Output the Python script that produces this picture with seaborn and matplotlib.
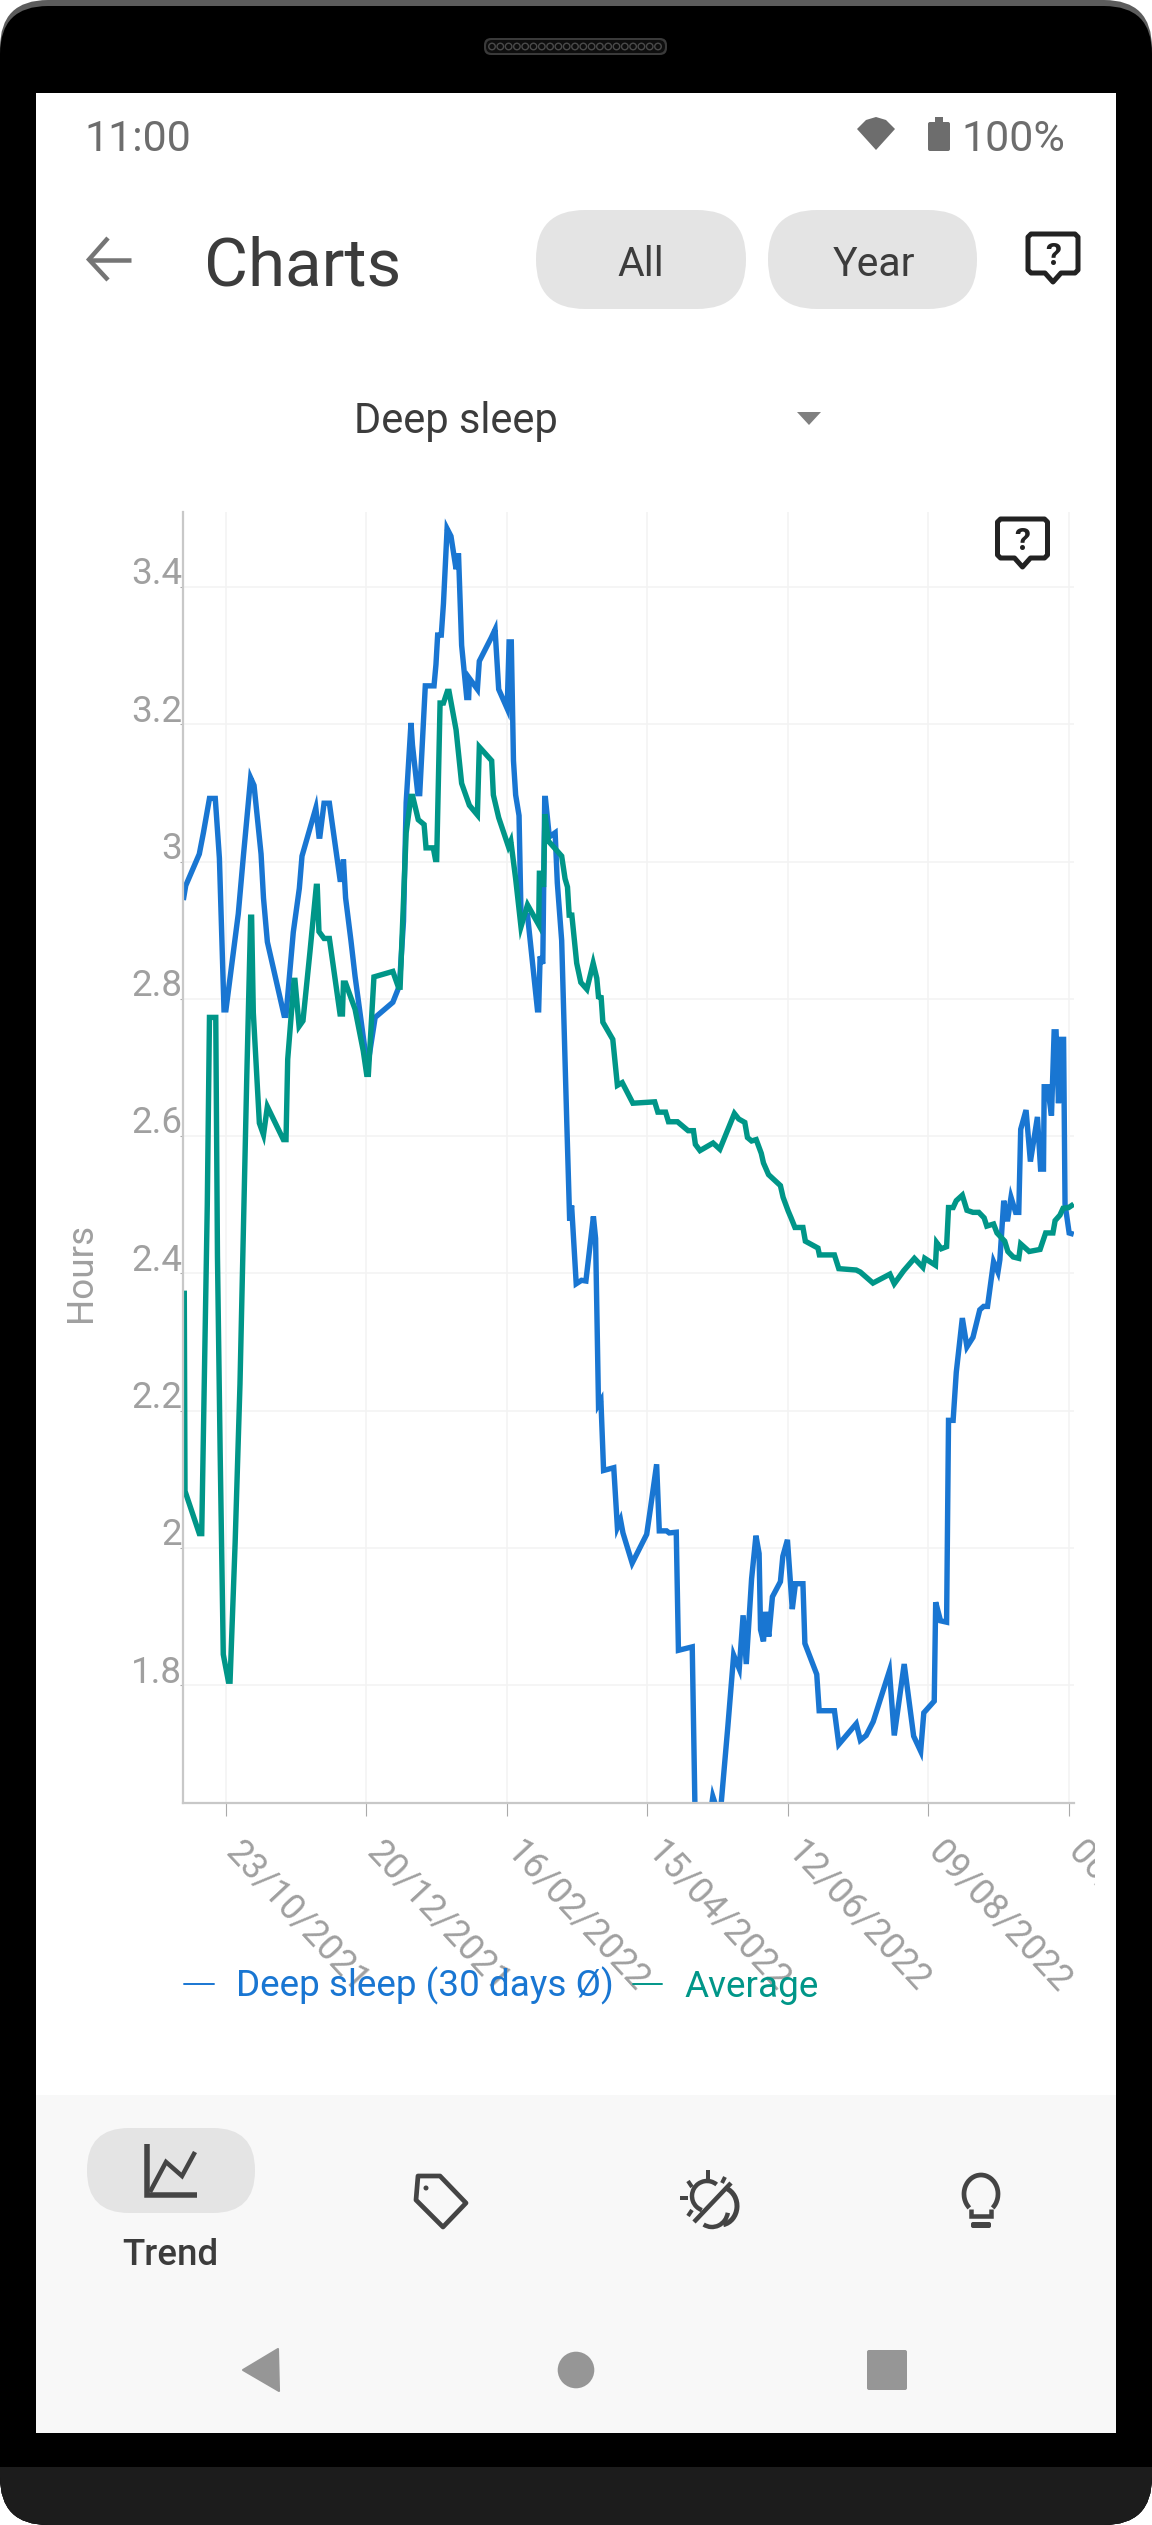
import numpy as np
import pandas as pd
import matplotlib
matplotlib.use("Agg")
import matplotlib.pyplot as plt
import seaborn as sns
from matplotlib.lines import Line2D
from matplotlib.patches import Arc, Circle, FancyBboxPatch, Polygon, Rectangle
from matplotlib.transforms import Bbox, ScaledTranslation

# Values; days are counted from 23/10/2021
blue_days = [-17.5, -16.5, -10.9, -9.2, -6.7, -4.3, -2.6, -2.1, -0.7, 0.1, 5.2, 7.3, 10.3, 11.7, 14.6, 15.6, 17.2, 24.1,
             24.9, 27.9, 30.4, 31.5, 37.2, 38.5, 38.9, 40.6, 42.8, 47.2, 48.2, 48.6, 49.5, 51.7, 53.4, 58.5, 61.7, 69.0,
             71.7, 73.4, 74.5, 76.5, 77.1, 79.3, 80.1, 82.4, 86.0, 86.8, 87.5, 89.0, 89.9, 91.4, 93.0, 95.1, 96.1, 97.4,
             99.5, 100.3, 100.6, 103.9, 104.7, 109.6, 111.2, 112.7, 116.2, 117.0, 117.9, 118.8, 119.7, 121.1, 121.9,
             124.6, 127.0, 128.7, 129.2, 129.8, 130.9, 131.7, 132.0, 133.6, 136.0, 136.9, 138.7, 140.8, 142.0, 142.8,
             144.7, 146.9, 148.7, 151.8, 152.7, 153.9, 154.9, 156.0, 160.2, 161.7, 163.0, 164.0, 167.8, 173.8, 175.4,
             177.9, 179.0, 182.0, 183.1, 186.0, 186.9, 192.6, 193.7, 194.6, 198.0, 201.1, 203.2, 204.5, 207.3, 209.7,
             212.0, 213.6, 214.9, 217.1, 218.9, 220.2, 220.8, 222.0, 222.9, 224.2, 225.7, 229.0, 230.0, 231.9, 233.9,
             235.2, 238.3, 239.1, 244.0, 245.0, 251.3, 253.1, 260.3, 262.0, 264.4, 267.3, 274.0, 276.0, 280.1, 284.0,
             286.9, 288.2, 292.5, 293.1, 295.1, 297.6, 298.4, 300.3, 301.6, 304.1, 306.0, 308.5, 311.3, 312.9, 314.5,
             317.0, 318.8, 319.6, 321.2, 322.7, 324.2, 326.1, 327.4, 328.2, 330.4, 332.2, 335.1, 336.4, 337.6, 337.9,
             339.3, 340.9, 342.0, 342.8, 343.8, 344.9, 345.9, 346.5, 348.2, 350.1]
blue_hours = [2.944, 2.965, 3.011, 3.042, 3.092, 3.092, 3.005, 2.947, 2.784, 2.784, 2.924, 3.008, 3.122, 3.111, 3.011,
              2.947, 2.883, 2.776, 2.776, 2.897, 2.961, 3.008, 3.078, 3.037, 3.037, 3.085, 3.085, 2.974, 2.974, 3.003,
              2.947, 2.885, 2.833, 2.70, 2.773, 2.795, 2.819, 2.913, 3.086, 3.202, 3.170, 3.099, 3.099, 3.256, 3.256,
              3.287, 3.330, 3.330, 3.376, 3.485, 3.474, 3.426, 3.449, 3.315, 3.239, 3.239, 3.267, 3.251, 3.292, 3.326,
              3.338, 3.251, 3.223, 3.320, 3.320, 3.147, 3.097, 3.067, 2.924, 2.922, 2.841, 2.784, 2.784, 2.862, 2.851,
              3.092, 3.092, 3.036, 3.042, 2.969, 2.885, 2.621, 2.477, 2.499, 2.385, 2.390, 2.389, 2.483, 2.451, 2.209,
              2.215, 2.113, 2.117, 2.030, 2.041, 2.022, 1.978, 2.020, 2.059, 2.122, 2.025, 2.025, 2.022, 2.023, 1.851,
              1.856, 1.626, 1.56, 1.56, 1.638, 1.615, 1.626, 1.740, 1.844, 1.824, 1.902, 1.831, 1.955, 2.018, 1.992,
              1.881, 1.864, 1.907, 1.871, 1.929, 1.951, 1.988, 2.012, 1.911, 1.948, 1.948, 1.861, 1.816, 1.763, 1.763,
              1.714, 1.744, 1.720, 1.727, 1.747, 1.821, 1.727, 1.831, 1.726, 1.704, 1.760, 1.777, 1.921, 1.894, 1.892,
              2.186, 2.186, 2.256, 2.335, 2.293, 2.307, 2.347, 2.352, 2.352, 2.417, 2.402, 2.420, 2.506, 2.476, 2.511,
              2.489, 2.489, 2.610, 2.638, 2.563, 2.628, 2.552, 2.552, 2.672, 2.672, 2.63, 2.752, 2.752, 2.648, 2.741,
              2.741, 2.501, 2.459, 2.457]

teal_days = [-17.1, -16.8, -10.9, -9.9, -7.6, -6.7, -4.1, -3.4, -2.3, -1.0, 1.1, 1.8, 3.9, 5.9, 8.7, 10.3, 10.7, 11.4,
             13.9, 15.6, 17.2, 23.8, 24.9, 25.6, 28.2, 28.6, 30.3, 31.9, 34.8, 37.4, 37.8, 38.5, 40.6, 42.8, 47.2, 48.2,
             48.6, 49.5, 53.4, 56.8, 58.2, 58.9, 61.2, 69.0, 71.3, 72.0, 73.4, 74.5, 76.5, 77.2, 79.5, 81.9, 82.7, 85.7,
             86.6, 87.1, 88.5, 89.9, 91.5, 92.2, 95.1, 97.4, 100.6, 103.9, 104.7, 109.8, 110.5, 112.7, 116.7, 117.7,
             119.7, 121.9, 124.6, 129.2, 129.5, 130.5, 131.2, 131.8, 133.2, 138.7, 140.1, 141.1, 141.8, 142.9, 144.9,
             146.6, 149.1, 151.7, 153.2, 153.9, 155.0, 155.7, 159.8, 161.7, 163.7, 168.1, 177.1, 178.4, 181.6, 182.8,
             186.5, 190.9, 193.1, 193.9, 195.8, 201.2, 204.0, 210.0, 211.8, 214.3, 215.4, 217.1, 219.0, 221.1, 222.0,
             224.1, 229.0, 230.1, 232.2, 233.4, 235.0, 238.3, 239.3, 244.5, 245.1, 251.3, 253.1, 260.3, 262.0, 267.2,
             274.2, 276.0, 279.9, 284.3, 287.8, 288.6, 293.0, 293.5, 295.4, 297.6, 298.4, 300.3, 301.6, 304.1, 306.0,
             308.5, 310.9, 313.1, 314.2, 317.0, 318.4, 321.6, 322.9, 325.1, 327.4, 328.2, 331.7, 336.2, 338.5, 341.5,
             342.4, 344.4, 345.7, 348.0, 350.1]
teal_hours = [2.375, 2.083, 2.021, 2.021, 2.5, 2.773, 2.773, 2.425, 2.142, 1.845, 1.806, 1.806, 2.008, 2.239, 2.686,
              2.919, 2.919, 2.780, 2.619, 2.602, 2.643, 2.595, 2.595, 2.712, 2.827, 2.827, 2.760, 2.768, 2.869, 2.964,
              2.964, 2.898, 2.888, 2.888, 2.778, 2.778, 2.823, 2.823, 2.785, 2.724, 2.690, 2.690, 2.832, 2.840, 2.817,
              2.817, 2.941, 3.042, 3.095, 3.095, 3.061, 3.054, 3.020, 3.020, 3.003, 3.003, 3.231, 3.231, 3.248, 3.248,
              3.192, 3.114, 3.082, 3.068, 3.167, 3.147, 3.097, 3.064, 3.022, 3.030, 2.975, 2.905, 2.937, 2.908, 2.983,
              2.983, 2.963, 3.069, 3.030, 3.008, 2.975, 2.963, 2.922, 2.922, 2.852, 2.824, 2.814, 2.852, 2.830, 2.803,
              2.802, 2.766, 2.741, 2.674, 2.678, 2.648, 2.650, 2.635, 2.635, 2.621, 2.621, 2.608, 2.608, 2.588, 2.579,
              2.590, 2.581, 2.633, 2.625, 2.620, 2.598, 2.593, 2.595, 2.575, 2.561, 2.544, 2.528, 2.511, 2.491, 2.481,
              2.467, 2.467, 2.447, 2.437, 2.427, 2.427, 2.407, 2.405, 2.402, 2.386, 2.399, 2.385, 2.404, 2.422, 2.409,
              2.422, 2.412, 2.445, 2.436, 2.439, 2.496, 2.496, 2.506, 2.514, 2.492, 2.489, 2.489, 2.481, 2.469, 2.472,
              2.459, 2.447, 2.432, 2.424, 2.422, 2.443, 2.432, 2.435, 2.459, 2.459, 2.477, 2.485, 2.495, 2.496, 2.501]

tick_days = [0, 58, 116, 174, 232, 290, 348]
tick_dates = ["23/10/2021", "20/12/2021", "16/02/2022", "15/04/2022", "12/06/2022", "09/08/2022", "06/10/2022"]
hour_ticks = [1.8, 2.0, 2.2, 2.4, 2.6, 2.8, 3.0, 3.2, 3.4]
hour_labels = ["1.8", "2", "2.2", "2.4", "2.6", "2.8", "3", "3.2", "3.4"]
series_names = ["Deep sleep (30 days Ø)", "Average"]
series_colors = ["#1976d2", "#009688"]

W, H = 1152, 2525
TEXT_DARK = "#3c3c3c"
ICON_DARK = "#444444"
AXIS_TEXT = "#a0a0a0"

sns.set_theme(style="white")
plt.rcParams["font.family"] = ["Roboto", "DejaVu Sans"]

fig = plt.figure(figsize=(W / 100, H / 100), dpi=100, facecolor="white")

# Phone frame and app screen, laid out in image pixels
ui = fig.add_axes([0, 0, 1, 1], zorder=0)
ui.set_xlim(0, W)
ui.set_ylim(H, 0)
ui.axis("off")


def rounded(x0, y0, x1, y1, r, color, **kw):
    patch = FancyBboxPatch((x0 + r, y0 + r), x1 - x0 - 2 * r, y1 - y0 - 2 * r,
                           boxstyle=f"round,pad={r},rounding_size={r}", fc=color, ec=kw.pop("ec", "none"), **kw)
    ui.add_patch(patch)
    return patch


def label(x, y, s, size, color=TEXT_DARK, ha="left", **kw):
    ui.text(x, y, s, fontsize=size, color=color, ha=ha, va="baseline", **kw)


def stroke(xs, ys, width=4, color=ICON_DARK, **kw):
    ui.plot(xs, ys, color=color, lw=width * 0.72, solid_capstyle=kw.pop("cap", "butt"),
            solid_joinstyle="miter", **kw)


def feedback_icon(x0, y0):
    # speech bubble with a question mark, 53 px wide
    x1, y1 = x0 + 50, y0 + 39
    xs = [x0 + 3, x1 - 3, x1, x1, x1 - 3, x0 + 33, x0 + 25, x0 + 17, x0 + 3, x0, x0, x0 + 3]
    ys = [y0, y0, y0 + 3, y1 - 3, y1, y1, y1 + 9, y1, y1, y1 - 3, y0 + 3, y0]
    ui.add_patch(Polygon(np.column_stack([xs, ys]), closed=True, fc="none", ec="#222222", lw=3.6, joinstyle="round"))
    ui.text(x0 + 25, y0 + 31, "?", fontsize=23, color="#222222", ha="center", va="baseline", fontweight="bold")


rounded(0, 0, W, H, 48, "#5c5c5c")
body = rounded(0, 6, W, H, 48, "black")
band = Rectangle((0, 2467), W, 58, fc="#1c1c1c", ec="none")
ui.add_patch(band)
band.set_clip_path(body)

# speaker grille
rounded(484, 38, 667, 55, 7, "#3a3a3a")
rounded(486, 40, 665, 53, 6, "#0e0e0e")
grille_x = np.arange(492, 662, 8.3)
ui.scatter(grille_x, np.full_like(grille_x, 46.5), s=22, facecolors="none", edgecolors="#4a4a4a", linewidths=1.0)

ui.add_patch(Rectangle((36, 93), 1080, 2340, fc="white", ec="none"))
ui.add_patch(Rectangle((36, 2095), 1080, 338, fc="#f8f8f8", ec="none"))

# status bar
label(84, 151, "11:00", 31, color="#6d6d6d")
label(961, 151, "100%", 31, color="#6d6d6d")
ui.add_patch(Polygon([(857, 129), (866, 120), (876, 117), (886, 120), (895, 129), (876, 150)], closed=True,
                     fc="#6d6d6d", ec="none"))
rounded(928, 122, 950, 151, 2, "#6d6d6d")
ui.add_patch(Rectangle((935, 117), 8, 6, fc="#6d6d6d", ec="none"))

# header row
stroke([131, 90], [260, 260], color="#757575", width=4.5)
stroke([108, 89, 108], [238, 259.5, 280], color="#757575", width=4.5)
label(204, 285, "Charts", 48.5)
rounded(536, 210, 746, 309, 49, "#e4e4e4")
rounded(768, 210, 977, 309, 49, "#e4e4e4")
label(641, 276, "All", 29.5, ha="center")
label(874, 276, "Year", 29.5, ha="center")
feedback_icon(1028, 234)

# metric selector
label(354, 433, "Deep sleep", 30)
ui.add_patch(Polygon([(797, 412), (821, 412), (809, 425)], closed=True, fc="#808080", ec="none"))
feedback_icon(997.5, 519)

# bottom tabs
rounded(87, 2128, 255, 2213, 42, "#e4e4e4")
stroke([147, 147, 197], [2144, 2195, 2195], width=5.5)
stroke([150, 166, 182, 195], [2192, 2162, 2176, 2152], width=4.5)
label(170, 2265, "Trend", 26.5, ha="center", fontweight="medium")

ui.add_patch(Polygon([(418, 2176), (440, 2176), (466, 2203), (443, 2227), (416, 2200)], closed=True, fc="none",
                     ec=ICON_DARK, lw=3.4, joinstyle="round"))
ui.add_patch(Circle((426, 2188), 2.5, fc=ICON_DARK, ec="none"))

stroke([694, 731], [2222, 2183], width=4.5)
ui.add_patch(Arc((707, 2196), 30, 30, theta1=-250, theta2=-50, ec=ICON_DARK, lw=3.2))
ui.add_patch(Arc((720, 2206), 34, 38, theta1=-70, theta2=80, ec=ICON_DARK, lw=3.6))
ui.add_patch(Arc((712, 2210), 32, 34, theta1=10, theta2=120, ec=ICON_DARK, lw=3.2))
stroke([708, 708], [2170, 2179], width=4)
stroke([680, 688], [2198, 2198], width=4)
stroke([688, 692], [2181, 2187], width=4)
stroke([725, 722], [2177, 2183], width=4)
stroke([688, 692], [2216, 2210], width=4)

ui.add_patch(Arc((981, 2194), 34, 38, theta1=130, theta2=50, ec=ICON_DARK, lw=3.4))
stroke([971, 971, 991, 991], [2209, 2216, 2216, 2209], width=4.5)
rounded(971, 2222, 991, 2228, 2, ICON_DARK)

# navigation bar
ui.add_patch(Polygon([(243, 2370), (278, 2349), (279, 2391)], closed=True, fc="#969696", ec="#969696", lw=1.5,
                     joinstyle="round"))
ui.add_patch(Circle((576, 2370), 18.3, fc="#969696", ec="none"))
rounded(867, 2350, 907, 2390, 2, "#969696")

# The chart itself
frame = pd.concat([
    pd.DataFrame({"day": blue_days, "hours": blue_hours, "series": series_names[0]}),
    pd.DataFrame({"day": teal_days, "hours": teal_hours, "series": series_names[1]}),
])

ax = fig.add_axes([182.7 / W, 1 - 1802.7 / H, 891.3 / W, 1291.2 / H], zorder=1, facecolor="none")
sns.lineplot(data=frame, x="day", y="hours", hue="series", palette=dict(zip(series_names, series_colors)),
             estimator=None, sort=False, linewidth=3.9, legend=False, ax=ax,
             solid_joinstyle="miter", solid_capstyle="butt")

ax.set_xlim(-17.75, 350.2)
ax.set_ylim(1.629, 3.51)
ax.set_xticks(tick_days)
ax.set_xticklabels(tick_dates)
ax.set_yticks(hour_ticks)
ax.set_yticklabels(hour_labels)
ax.set_xlabel("")
ax.set_ylabel("Hours", fontsize=26.5, color=AXIS_TEXT, va="center")
ax.yaxis.set_label_coords((81 - 182.7) / 891.3, (1802.7 - 1272) / 1291.2)

ax.grid(True, color="#f3f3f3", linewidth=1.2)
ax.set_axisbelow(True)
sns.despine(ax=ax)
for side in ["left", "bottom"]:
    ax.spines[side].set_color("#c8c8c8")
    ax.spines[side].set_linewidth(1.6)

ax.tick_params(axis="x", length=9, width=0.8, color="#aaaaaa", labelcolor=AXIS_TEXT, labelsize=26, pad=14, bottom=True)
ax.tick_params(axis="y", length=2.5, width=0.8, color="#aaaaaa", labelcolor=AXIS_TEXT, labelsize=26.5, pad=-2, left=True)

# nudge labels to where the app puts them
raise_labels = ScaledTranslation(0, 2 / 72, fig.dpi_scale_trans)
for tick in ax.get_yticklabels():
    tick.set_va("baseline")
    tick.set_transform(tick.get_transform() + raise_labels)

# the last date runs off the chart view in the app
view_box = Bbox([[0, 0], [1094.5, H]])
shift_labels = ScaledTranslation(19 / 100, 0, fig.dpi_scale_trans)
for tick in ax.get_xticklabels():
    tick.set_rotation(-47)
    tick.set_rotation_mode("anchor")
    tick.set_ha("left")
    tick.set_va("top")
    tick.set_transform(tick.get_transform() + shift_labels)
    tick.set_clip_box(view_box)
    tick.set_clip_on(True)

handles = [Line2D([], [], color=c, lw=1.4) for c in series_colors]
legend = ax.legend(handles, series_names, loc="center left", bbox_to_anchor=(184, 1986), bbox_transform=ui.transData,
                   ncol=2, frameon=False, fontsize=26.6, handlelength=0.8, handletextpad=0.6, columnspacing=0.52,
                   borderpad=0, borderaxespad=0, labelcolor=series_colors)

fig.savefig("out.png", dpi=100, facecolor=fig.get_facecolor())
